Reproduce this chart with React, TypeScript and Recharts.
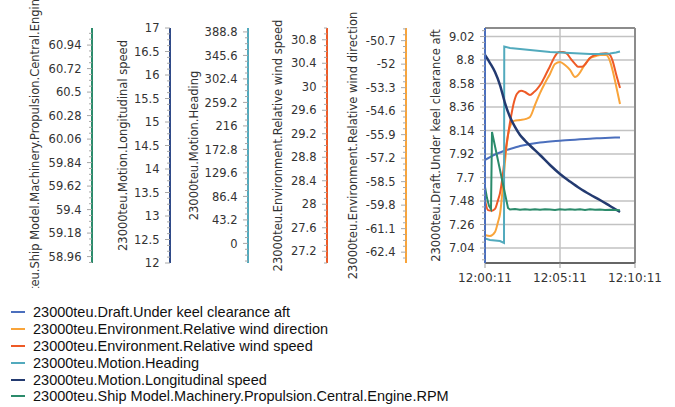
import React from 'react';
import { LineChart, Line, XAxis, YAxis, CartesianGrid, ReferenceLine } from 'recharts';

// ---- time axis (seconds after 12:00:11) ----
const timeTicks = [0, 300, 600];

// ---- major tick labels per axis ----
const keelTicks = [7.04, 7.26, 7.48, 7.7, 7.92, 8.14, 8.36, 8.58, 8.8, 9.02];
const wdirTicks = [-62.4, -61.1, -59.8, -58.5, -57.2, -55.9, -54.6, -53.3, -52, -50.7];
const wspdTicks = [27.2, 27.6, 28, 28.4, 28.8, 29.2, 29.6, 30, 30.4, 30.8];
const headTicks = [0, 43.2, 86.4, 129.6, 172.8, 216, 259.2, 302.4, 345.6, 388.8];
const spdTicks = [12, 12.5, 13, 13.5, 14, 14.5, 15, 15.5, 16, 16.5, 17];
const rpmTicks = [58.96, 59.18, 59.4, 59.62, 59.84, 60.06, 60.28, 60.5, 60.72, 60.94];

// ---- series ----
const keelTimes = [0, 20, 40, 60, 80, 100, 120, 140, 180, 220, 260, 300, 340, 380, 420, 460, 500, 540];
const keelValues = [7.864, 7.892, 7.916, 7.934, 7.953, 7.967, 7.981, 7.995, 8.014, 8.028, 8.037, 8.045, 8.051, 8.058, 8.064, 8.068, 8.072, 8.076];

const wdirTimes = [0, 20, 40, 52, 60, 72, 80, 92, 104, 116, 140, 164, 180, 200, 220, 240, 260, 280, 300, 320, 340, 360, 376, 396, 420, 444, 460, 484, 500, 512, 528, 540];
const wdirValues = [-61.45, -61.51, -61.29, -60.73, -60.29, -58.69, -57.41, -55.92, -55.31, -55.14, -55.09, -55.03, -54.92, -54.26, -53.6, -53.04, -52.54, -51.99, -51.88, -52.05, -52.32, -52.71, -52.54, -52.1, -51.66, -51.55, -51.49, -51.49, -51.83, -52.43, -53.43, -54.2];

const wspdTimes = [0, 12, 28, 40, 52, 60, 72, 80, 92, 104, 116, 128, 144, 160, 180, 196, 208, 224, 240, 260, 280, 296, 312, 328, 344, 360, 372, 388, 404, 420, 440, 460, 484, 500, 512, 524, 540];
const wspdValues = [28.07, 27.9, 27.89, 27.92, 28.07, 28.19, 28.53, 28.84, 29.18, 29.49, 29.74, 29.88, 29.93, 29.91, 29.86, 29.91, 29.96, 30.05, 30.18, 30.35, 30.52, 30.59, 30.59, 30.56, 30.47, 30.39, 30.34, 30.34, 30.4, 30.49, 30.54, 30.56, 30.57, 30.54, 30.42, 30.22, 29.98];

const headTimes = [0, 20, 40, 60, 76, 77, 100, 140, 180, 220, 260, 300, 340, 380, 420, 460, 500, 524, 540];
const headValues = [9.0, 6.3, 5.4, 4.4, 0.8, 362, 359.2, 357.4, 355.6, 353.8, 351.9, 351.0, 350.0, 349.1, 348.2, 348.2, 349.1, 351.0, 352.8];

const spdTimes = [0, 20, 40, 60, 80, 100, 120, 140, 160, 180, 220, 260, 300, 340, 380, 420, 460, 500, 540];
const spdValues = [16.426, 16.255, 16.064, 15.787, 15.404, 15.106, 14.894, 14.723, 14.606, 14.5, 14.298, 14.085, 13.894, 13.734, 13.585, 13.457, 13.34, 13.213, 13.085];

const rpmTimes = [0, 8, 16, 24, 28, 92, 100, 120, 140, 160, 180, 200, 220, 240, 260, 280, 300, 320, 340, 360, 380, 400, 420, 440, 460, 480, 500, 520, 540];
const rpmValues = [59.611, 59.508, 59.434, 59.405, 60.126, 59.415, 59.401, 59.405, 59.398, 59.404, 59.399, 59.403, 59.398, 59.404, 59.4, 59.397, 59.403, 59.399, 59.404, 59.398, 59.402, 59.397, 59.403, 59.399, 59.401, 59.397, 59.399, 59.396, 59.393];

const zip = (ts: number[], vs: number[]) => ts.map((t, i) => ({ t, v: vs[i] }));

const COLORS = {
  keel: '#4b6fbd',
  wdir: '#f9a43a',
  wspd: '#ee5a26',
  head: '#52aabd',
  spd: '#233a70',
  rpm: '#2b8b6b',
};

// axis ids sort so that y1 is next to the plot and y6 is outermost
const SERIES = [
  { id: 'y1', name: '23000teu.Draft.Under keel clearance aft', data: zip(keelTimes, keelValues), color: COLORS.keel, type: 'monotone', w: 2 },
  { id: 'y2', name: '23000teu.Environment.Relative wind direction', data: zip(wdirTimes, wdirValues), color: COLORS.wdir, type: 'monotone', w: 2 },
  { id: 'y3', name: '23000teu.Environment.Relative wind speed', data: zip(wspdTimes, wspdValues), color: COLORS.wspd, type: 'monotone', w: 2 },
  { id: 'y4', name: '23000teu.Motion.Heading', data: zip(headTimes, headValues), color: COLORS.head, type: 'linear', w: 2 },
  { id: 'y5', name: '23000teu.Motion.Longitudinal speed', data: zip(spdTimes, spdValues), color: COLORS.spd, type: 'monotone', w: 2.5 },
  { id: 'y6', name: '23000teu.Ship Model.Machinery.Propulsion.Central.Engine.RPM', data: zip(rpmTimes, rpmValues), color: COLORS.rpm, type: 'linear', w: 2 },
];

function withMinor(majors: number[], domain: number[]) {
  const step = (majors[1] - majors[0]) / 4;
  const out: number[] = [];
  for (let k = -8; k <= (majors.length - 1) * 4 + 8; k++) {
    if (k % 4 === 0 && k >= 0 && k / 4 < majors.length) continue;
    const v = majors[0] + k * step;
    if (v >= domain[0] - 1e-9 && v <= domain[1] + 1e-9) out.push(v);
  }
  return [...majors, ...out];
}

const AXES = [
  { id: 'y1', width: 79, domain: [6.9, 9.1], majors: keelTicks, color: COLORS.keel, label: '23000teu.Draft.Under keel clearance aft', off: -49 },
  { id: 'y2', width: 79, domain: [-63, -50], majors: wdirTicks, color: COLORS.wdir, label: '23000teu.Environment.Relative wind direction', off: -53.5 },
  { id: 'y3', width: 79, domain: [27, 31], majors: wspdTicks, color: COLORS.wspd, label: '23000teu.Environment.Relative wind speed', off: -49 },
  { id: 'y4', width: 78, domain: [-36, 396], majors: headTicks, color: COLORS.head, label: '23000teu.Motion.Heading', off: -54 },
  { id: 'y5', width: 78, domain: [12, 17], majors: spdTicks, color: '#2f4a88', label: '23000teu.Motion.Longitudinal speed', off: -47 },
  { id: 'y6', width: 78, domain: [58.9, 61.1], majors: rpmTicks, color: COLORS.rpm, label: '23000teu.Ship Model.Machinery.Propulsion.Central.Engine.RPM', off: -57 },
];

const FONT = 'DejaVu Sans, Verdana, sans-serif';

const makeTick = (majors: number[]) => (props: any) => {
  const { x, y, payload } = props;
  const isMajor = majors.includes(payload.value);
  return (
    <g>
      <line x1={x - (isMajor ? 5 : 3)} x2={x} y1={y} y2={y} stroke="#a8a8a8" strokeWidth={1} />
      {isMajor && (
        <text x={x - 10.5} y={y} dy="0.36em" textAnchor="end" fontSize={11.5} fontFamily={FONT} fill="#333">
          {String(payload.value)}
        </text>
      )}
    </g>
  );
};

const AxisLabel = (props: any) => {
  const { viewBox, text, dxOff } = props;
  if (!viewBox) return null;
  const x = viewBox.x + viewBox.width + dxOff;
  const y = viewBox.y + viewBox.height / 2;
  return (
    <text x={x} y={y} transform={`rotate(-90 ${x} ${y})`} textAnchor="middle" dominantBaseline="central" fontSize={11.5} fontFamily={FONT} fill="#333">
      {text}
    </text>
  );
};

const pad = (n: number) => (n < 10 ? '0' + n : String(n));
const BASE = 12 * 3600 + 0 * 60 + 11;
const fmtTime = (t: number) => {
  const s = BASE + t;
  return `${Math.floor(s / 3600)}:${pad(Math.floor((s % 3600) / 60))}:${pad(s % 60)}`;
};

export default function App() {
  return (
    <div style={{ position: 'absolute', left: 0, top: 0, width: 675, height: 407, background: '#fff' }}>
      <LineChart width={675} height={288} margin={{ top: 28, right: 40, bottom: 0, left: 14 }}>
        <CartesianGrid
          xAxisId={0}
          yAxisId="y1"
          horizontalValues={keelTicks}
          verticalValues={timeTicks}
          stroke="#c2c2c2"
          strokeWidth={1.5}
        />
        <XAxis
          xAxisId={0}
          dataKey="t"
          type="number"
          domain={[0, 600]}
          ticks={timeTicks}
          interval={0}
          allowDataOverflow
          tickFormatter={fmtTime}
          height={25}
          axisLine={{ stroke: '#666', strokeWidth: 2 }}
          tickLine={{ stroke: '#999' }}
          tickSize={5}
          tickMargin={5}
          tick={{ fontSize: 12, fill: '#333', fontFamily: FONT }}
        />
        {AXES.map((a) => (
          <YAxis
            key={a.id}
            yAxisId={a.id}
            orientation="left"
            width={a.width}
            type="number"
            domain={a.domain}
            allowDataOverflow
            ticks={withMinor(a.majors, a.domain)}
            interval={0}
            tickSize={0}
            tickMargin={0}
            tickLine={false}
            axisLine={{ stroke: a.color, strokeWidth: 2 }}
            tick={makeTick(a.majors)}
            label={<AxisLabel text={a.label} dxOff={a.off} />}
          />
        ))}
        <ReferenceLine yAxisId="y1" y={9.1} stroke="#8c8c8c" strokeWidth={2} />
        <ReferenceLine yAxisId="y1" x={600} stroke="#8c8c8c" strokeWidth={2} />
        {SERIES.map((s) => (
          <Line
            key={s.id}
            yAxisId={s.id}
            data={s.data}
            dataKey="v"
            name={s.name}
            type={s.type as any}
            stroke={s.color}
            strokeWidth={s.w}
            dot={false}
            activeDot={false}
            isAnimationActive={false}
          />
        ))}
      </LineChart>
      <div style={{ position: 'absolute', left: 0, top: 304, fontFamily: 'Liberation Sans, Arial, sans-serif', fontSize: 14.5, color: '#111' }}>
        {SERIES.map((s) => (
          <div key={s.id} style={{ height: 16.8, display: 'flex', alignItems: 'center', whiteSpace: 'nowrap' }}>
            <span style={{ display: 'inline-block', width: 14, height: 2, background: s.color, marginLeft: 11, marginRight: 8 }} />
            <span>{s.name}</span>
          </div>
        ))}
      </div>
    </div>
  );
}
